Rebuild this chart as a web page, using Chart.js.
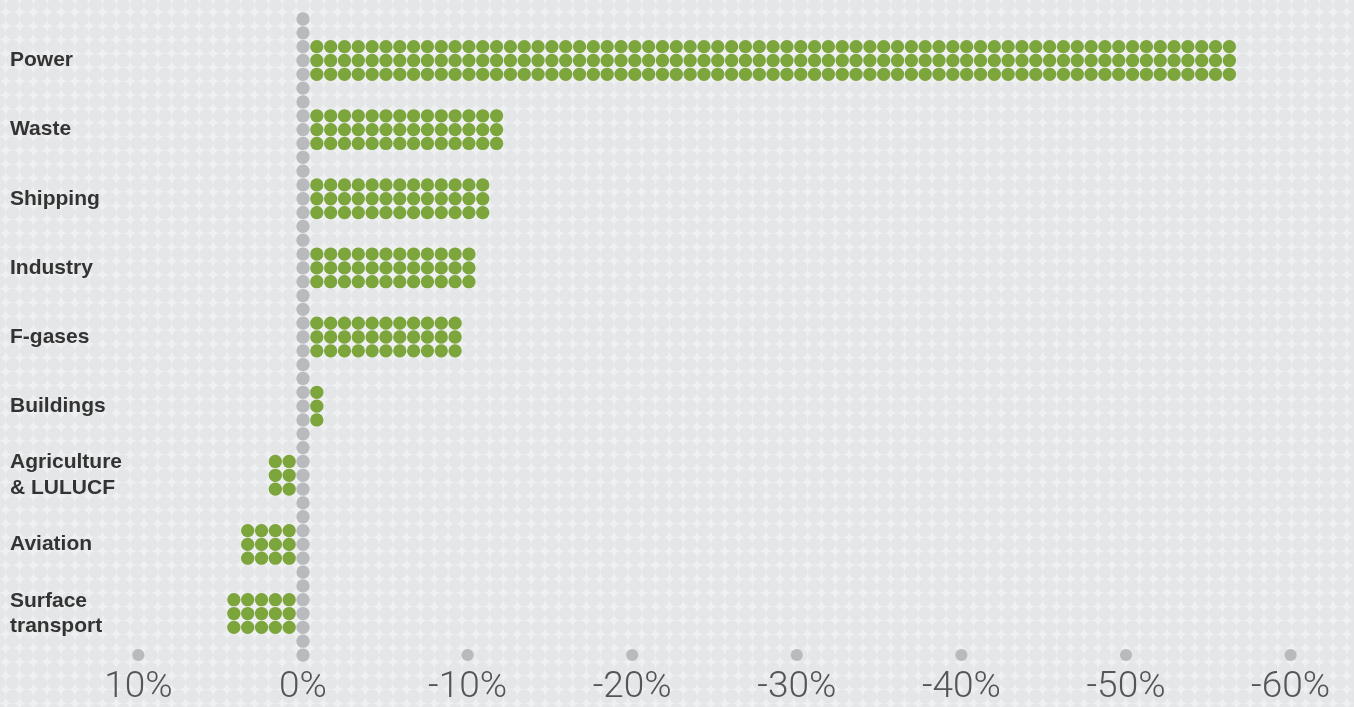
<!DOCTYPE html>
<html>
<head>
<meta charset="utf-8">
<script src="https://cdn.jsdelivr.net/npm/chart.js@4"></script>
<style>
  html, body { margin: 0; padding: 0; background: #eef0f1; }
  #wrap { width: 1354px; height: 707px; position: relative; }
</style>
</head>
<body>
<div id="wrap"><canvas id="sectorChart"></canvas></div>
<script>
// change in emissions by sector, % (negative = reduction)
const sectors = [
  "Power",
  "Waste",
  "Shipping",
  "Industry",
  "F-gases",
  "Buildings",
  ["Agriculture", "& LULUCF"],
  "Aviation",
  ["Surface", "transport"],
];
const changePct = [-56.3, -11.8, -10.9, -10.1, -9.2, -0.8, 1.7, 3.4, 4.2];
const xTicks = [10, 0, -10, -20, -30, -40, -50, -60];

// one dot = this many percent
const DOT_PCT = 0.84;

// layout
const H = 707;
const ZERO_X = 303;      // pixel of 0%
const PX_PER_PCT = 16.46;
const ROW0_Y = 19;       // pixel of first row
const STEP = DOT_PCT * PX_PER_PCT;
const AREA_LEFT = 130;
const AREA_BOTTOM = 666;
const LAST_ROW = 46;

const GREEN = "#7ca53b";
const GREY = "#b9babd";

// grey zero column
const columnDots = [];
for (let r = 0; r <= LAST_ROW; r++) columnDots.push({ x: 0, y: r });

// tick marker dots
const tickDots = xTicks.filter(v => v !== 0).map(v => ({ x: v, y: LAST_ROW }));

// green bars built from the values, 3 rows per sector
const barDots = [];
changePct.forEach((v, k) => {
  const n = Math.round(Math.abs(v) / DOT_PCT);
  const dir = v < 0 ? -1 : 1;
  for (let row = 0; row < 3; row++) {
    for (let i = 1; i <= n; i++) {
      barDots.push({ x: dir * i * DOT_PCT, y: 2 + 5 * k + row });
    }
  }
});

// faint dotted backdrop aligned to the chart grid
const backdrop = {
  id: "backdrop",
  beforeDraw(chart) {
    const { ctx, scales } = chart;
    const x0 = scales.x.getPixelForValue(0);
    const dx = scales.x.getPixelForValue(-DOT_PCT) - x0;
    const y0 = scales.y.getPixelForValue(0);
    const dy = scales.y.getPixelForValue(1) - y0;
    ctx.save();
    ctx.fillStyle = "#eef0f1";
    ctx.fillRect(0, 0, chart.width, chart.height);
    ctx.fillStyle = "#e5e6e8";
    const startX = x0 - Math.ceil(x0 / dx) * dx;
    const startY = y0 - Math.ceil(y0 / dy) * dy;
    for (let y = startY; y < chart.height + dy; y += dy) {
      for (let x = startX; x < chart.width + dx; x += dx) {
        ctx.beginPath();
        ctx.arc(x, y, dx * 0.5, 0, Math.PI * 2);
        ctx.fill();
      }
    }
    ctx.restore();
  },
};

const chart = new Chart(document.getElementById("sectorChart"), {
  type: "scatter",
  data: {
    datasets: [
      {
        data: barDots,
        pointRadius: STEP * 0.48,
        pointBackgroundColor: GREEN,
        pointBorderWidth: 0,
        clip: false,
      },
      {
        data: columnDots,
        pointRadius: STEP * 0.48,
        pointBackgroundColor: GREY,
        pointBorderWidth: 0,
        clip: false,
      },
      {
        data: tickDots,
        pointRadius: STEP * 0.44,
        pointBackgroundColor: GREY,
        pointBorderWidth: 0,
        clip: false,
      },
    ],
  },
  options: {
    responsive: true,
    maintainAspectRatio: false,
    animation: false,
    layout: { padding: { left: 10, top: 0, right: 0, bottom: 0 } },
    plugins: {
      legend: { display: false },
      tooltip: { enabled: false },
    },
    scales: {
      x: {
        type: "linear",
        reverse: true,
        min: -64,
        max: 10,
        grid: { display: false, drawTicks: false },
        border: { display: false },
        afterBuildTicks: scale => {
          scale.ticks = xTicks.map(v => ({ value: v }));
        },
        afterFit: scale => {
          scale.height = H - AREA_BOTTOM;
          scale.paddingLeft = 0;
          scale.paddingRight = 0;
        },
        ticks: {
          padding: 1,
          color: "#555",
          font: { family: "Roboto", size: 37, weight: 300, lineHeight: 1.1 },
          maxRotation: 0,
          callback: v => v + "%",
        },
      },
      y: {
        type: "linear",
        reverse: true,
        min: -1,
        max: 47,
        grid: { display: false, drawTicks: false },
        border: { display: false },
        afterBuildTicks: scale => {
          scale.ticks = sectors.map((s, k) => ({ value: 3 + 5 * k }));
        },
        afterFit: scale => {
          scale.width = AREA_LEFT - 10;
          scale.paddingTop = 0;
          scale.paddingBottom = 0;
        },
        ticks: {
          crossAlign: "far",
          color: "#333",
          font: { family: "Liberation Sans", size: 21, weight: "bold", lineHeight: 1.2 },
          callback: (v, i) => sectors[i],
        },
      },
    },
  },
  plugins: [backdrop],
});

// fit the axis ranges to the laid-out chart area so the dot grid lands where intended
const area = chart.chartArea;
const xMax = (ZERO_X - area.left) / PX_PER_PCT;
chart.options.scales.x.max = xMax;
chart.options.scales.x.min = xMax - (area.right - area.left) / PX_PER_PCT;
const yMin = (area.top - ROW0_Y) / STEP;
chart.options.scales.y.min = yMin;
chart.options.scales.y.max = yMin + (area.bottom - area.top) / STEP;
chart.update();
</script>
</body>
</html>
